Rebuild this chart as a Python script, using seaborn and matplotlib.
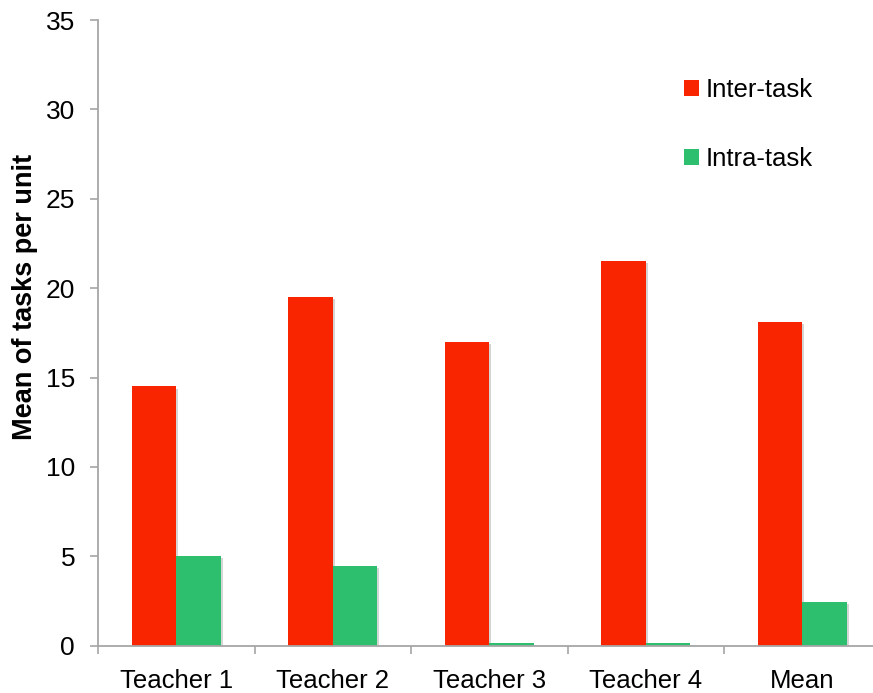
import matplotlib
matplotlib.use("Agg")
import matplotlib.pyplot as plt
import matplotlib.patheffects as pe
from matplotlib.patches import Patch
from matplotlib.ticker import FixedLocator
import numpy as np
import pandas as pd
import seaborn as sns

# Mean number of tasks per unit, by teacher
categories = ["Teacher 1", "Teacher 2", "Teacher 3", "Teacher 4", "Mean"]
inter_task = [14.5, 19.5, 17.0, 21.5, 18.125]
intra_task = [5.0, 4.45, 0.15, 0.15, 2.45]
series_names = ["Inter-task", "Intra-task"]
y_ticks = [0, 5, 10, 15, 20, 25, 30, 35]

colors = {"Inter-task": "#F92400", "Intra-task": "#2DBF6D"}
axis_gray = "#A6A6A6"

df = pd.DataFrame({
    "category": categories * 2,
    "value": inter_task + intra_task,
    "series": [series_names[0]] * len(categories) + [series_names[1]] * len(categories),
})

sns.set_theme(style="white")
plt.rcParams["font.family"] = ["Liberation Sans", "DejaVu Sans"]
plt.rcParams["text.color"] = "black"
plt.rcParams["axes.labelcolor"] = "black"

W, H = 873, 693
fig = plt.figure(figsize=(W / 100, H / 100), dpi=100)
ax_left, ax_bottom_px, ax_top_px, cat_w = 98, 645.7, 20, 156.5
ax_w_px = 5 * cat_w
ax = fig.add_axes([ax_left / W, (H - ax_bottom_px) / H,
                   ax_w_px / W, (ax_bottom_px - ax_top_px) / H])

sns.barplot(data=df, x="category", y="value", hue="series", order=categories,
            hue_order=series_names, palette=colors, width=0.57, dodge=True,
            saturation=1, legend=False, ax=ax, errorbar=None)

shadow = [pe.SimplePatchShadow(offset=(1.5, -1.5), shadow_rgbFace="#888888", alpha=0.35),
          pe.Normal()]
for bar in ax.patches:
    bar.set_linewidth(0)
    bar.set_path_effects(shadow)

ax.set_xlim(-0.5, len(categories) - 0.5)
ax.set_ylim(0, 35)
ax.yaxis.set_major_locator(FixedLocator(y_ticks))

# category labels centred, tick marks on the boundaries between groups
ax.set_xticks(range(len(categories)))
ax.set_xticklabels(categories)
ax.xaxis.set_minor_locator(FixedLocator(np.arange(-0.5, len(categories), 1.0)))
ax.tick_params(axis="x", which="major", length=0, pad=17, labelsize=18.5, labelcolor="black")
ax.tick_params(axis="x", which="minor", bottom=True, length=5.5, width=1.2, color=axis_gray,
               direction="out")
ax.tick_params(axis="y", which="major", left=True, length=5.5, width=1.2, color=axis_gray,
               direction="out", pad=11, labelsize=19, labelcolor="black")

for side in ["top", "right"]:
    ax.spines[side].set_visible(False)
for side in ["left", "bottom"]:
    ax.spines[side].set_color(axis_gray)
    ax.spines[side].set_linewidth(1.3)

ax.set_xlabel("")
ax.set_ylabel("Mean of tasks per unit", fontsize=19.5, fontweight="bold", color="black")
ax.yaxis.set_label_coords((38 - ax_left) / ax_w_px, 0.557)

handles = [Patch(facecolor=colors[s], edgecolor="none", label=s) for s in series_names]
leg = fig.legend(handles=handles, loc="upper left", bbox_to_anchor=(684 / W, 1 - 78 / H),
                 frameon=False, fontsize=18.5, handlelength=0.58, handleheight=0.58,
                 handletextpad=0.25, labelspacing=1.75, borderpad=0, borderaxespad=0)
for t in leg.get_texts():
    t.set_color("black")

fig.savefig("out.png", dpi=100)
